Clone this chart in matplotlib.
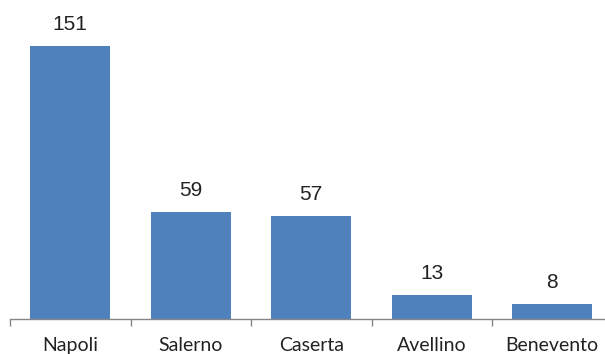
import numpy as np
import matplotlib.pyplot as plt

province = ['Napoli', 'Salerno', 'Caserta', 'Avellino', 'Benevento']
valori = [151, 59, 57, 13, 8]

W, H = 605, 354
fig = plt.figure(figsize=(W / 100, H / 100), dpi=100)
# axes: left edge at 10px, pitch ~120.5px per category, baseline at y=318.5
ax = fig.add_axes([10 / W, (H - 318.5) / H, 5 * 120.5 / W, 160 * 1.804 / H])

x = np.arange(len(province))
bars = ax.bar(x, valori, width=0.665, color='#4f81bd', zorder=2)
for xi, v in zip(x, valori):
    ax.annotate(str(v), (xi, v), xytext=(0, 8.5), textcoords='offset points',
                ha='center', va='bottom', fontsize=15, color='#222222',
                family='Liberation Sans')

ax.set_xlim(-0.5, len(province) - 0.5)
ax.set_ylim(0, 160)
for s in ['top', 'right', 'left']:
    ax.spines[s].set_visible(False)
ax.spines['bottom'].set_color('#868686')
ax.spines['bottom'].set_linewidth(1.0)
ax.set_yticks([])

ax.set_xticks(x)
ax.set_xticklabels(province, fontsize=14, family='Lato', color='#222222')
ax.tick_params(axis='x', which='major', length=0, pad=13.5)
ax.set_xticks(np.arange(len(province) + 1) - 0.5, minor=True)
ax.tick_params(axis='x', which='minor', length=5, color='#868686', width=1.0)

fig.savefig('out.png', dpi=100)
